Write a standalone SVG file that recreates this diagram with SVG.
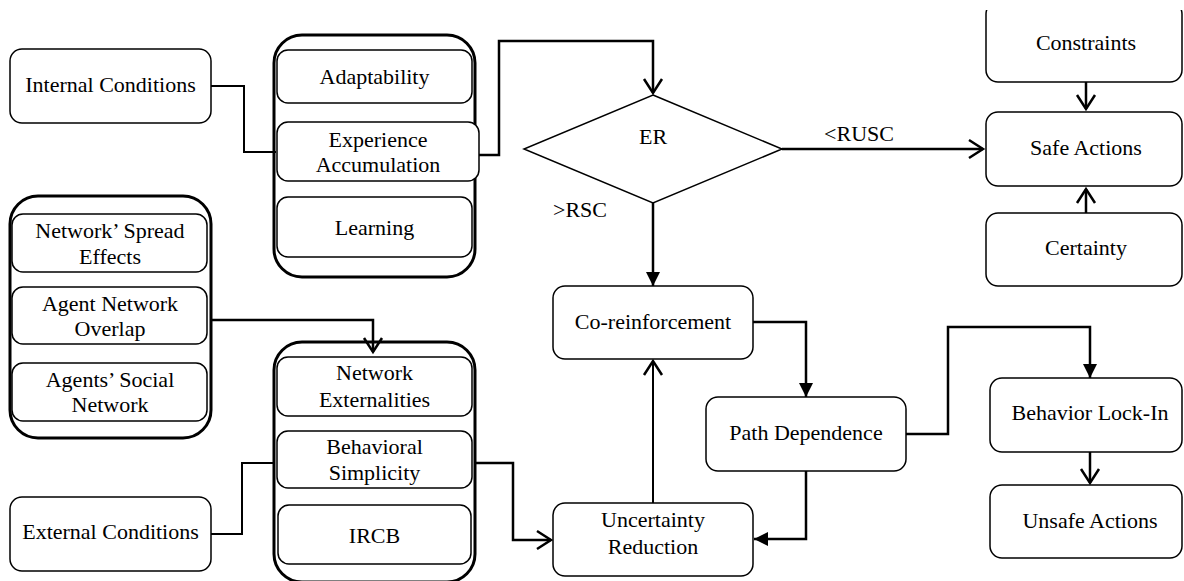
<svg xmlns="http://www.w3.org/2000/svg" width="1184" height="581" viewBox="0 0 1184 581">
<style>
.box{fill:#fff;stroke:#000;stroke-width:1.5}
.cont{fill:none;stroke:#000;stroke-width:3}
.t{font-family:"Liberation Serif","Times New Roman",serif;font-size:22px;fill:#000;text-anchor:middle}
.c{fill:none;stroke:#000;stroke-width:2.5;stroke-linejoin:miter}
.thin{stroke-width:2}
.dia{fill:#fff;stroke:#000;stroke-width:1.5}
</style>
<defs>
<marker id="open" markerUnits="userSpaceOnUse" markerWidth="20" markerHeight="20" refX="14" refY="9" orient="auto" overflow="visible"><path d="M0,0 L14,9 L0,18" fill="none" stroke="#000" stroke-width="2.5"/></marker>
<marker id="fill" markerUnits="userSpaceOnUse" markerWidth="20" markerHeight="20" refX="14" refY="7" orient="auto" overflow="visible"><path d="M0,0 L14,7 L0,14 Z" fill="#000"/></marker>
<clipPath id="topclip"><rect x="0" y="10" width="1184" height="571"/></clipPath>
</defs>
<rect width="1184" height="581" fill="#fff"/>

<g id="connectors">
<path class="c thin" d="M211,86 H244 V152 H276"/>
<path class="c thin" d="M211,534 H242 V463 H275"/>
<path class="c" d="M479,155 H499 V41 H653 V93" marker-end="url(#open)"/>
<path class="c" d="M653,203 V286" marker-end="url(#fill)"/>
<path class="c" d="M782,149 H983" marker-end="url(#open)"/>
<path class="c" d="M1086,82 V109" marker-end="url(#open)"/>
<path class="c" d="M1086,213 V189" marker-end="url(#open)"/>
<path class="c" d="M753,322 H806 V397" marker-end="url(#fill)"/>
<path class="c" d="M906,434 H948 V327 H1090 V378" marker-end="url(#fill)"/>
<path class="c" d="M1090,452 V483" marker-end="url(#open)"/>
<path class="c" d="M806,471 V539 H754" marker-end="url(#fill)"/>
<path class="c thin" d="M653,503 V361" marker-end="url(#open)"/>
<path class="c" d="M475,463 H513 V540 H551" marker-end="url(#open)"/>
<path class="c" d="M211,320 H373 V352" marker-end="url(#open)"/>
</g>

<g id="internal-conditions">
<rect class="box" x="10" y="49" width="201" height="74" rx="12"/>
<text class="t" x="110.5" y="92">Internal Conditions</text>
</g>

<g id="external-conditions">
<rect class="box" x="10" y="497" width="201" height="74" rx="12"/>
<text class="t" x="110.5" y="539">External Conditions</text>
</g>

<g id="group-agent">
<rect class="cont" x="274" y="35" width="201" height="242" rx="28"/>
<g id="adaptability">
<rect class="box" x="277" y="50" width="195" height="53" rx="11"/>
<text class="t" x="374.5" y="84">Adaptability</text>
</g>
<g id="experience-accumulation">
<rect class="box" x="277" y="122" width="202" height="59" rx="11"/>
<text class="t" x="378" y="147">Experience</text>
<text class="t" x="378" y="172">Accumulation</text>
</g>
<g id="learning">
<rect class="box" x="277" y="197" width="195" height="60" rx="11"/>
<text class="t" x="374.5" y="235">Learning</text>
</g>
</g>

<g id="group-network">
<rect class="cont" x="10" y="196" width="201" height="242" rx="28"/>
<g id="spread-effects">
<rect class="box" x="12" y="214" width="195" height="58" rx="11"/>
<text class="t" x="110" y="238">Network’ Spread</text>
<text class="t" x="110" y="264">Effects</text>
</g>
<g id="network-overlap">
<rect class="box" x="12" y="287" width="195" height="57" rx="11"/>
<text class="t" x="110" y="311">Agent Network</text>
<text class="t" x="110" y="336">Overlap</text>
</g>
<g id="social-network">
<rect class="box" x="12" y="363" width="195" height="58" rx="11"/>
<text class="t" x="110" y="387">Agents’ Social</text>
<text class="t" x="110" y="412">Network</text>
</g>
</g>

<g id="group-behavior">
<rect class="cont" x="274" y="342" width="201" height="240" rx="28"/>
<g id="network-externalities">
<rect class="box" x="277" y="357" width="195" height="59" rx="11"/>
<text class="t" x="374.5" y="380">Network</text>
<text class="t" x="374.5" y="407">Externalities</text>
</g>
<g id="behavioral-simplicity">
<rect class="box" x="277" y="431" width="195" height="57" rx="11"/>
<text class="t" x="374.5" y="454">Behavioral</text>
<text class="t" x="374.5" y="480">Simplicity</text>
</g>
<g id="ircb">
<rect class="box" x="278" y="505" width="193" height="59" rx="11"/>
<text class="t" x="374.5" y="543">IRCB</text>
</g>
</g>

<g id="er">
<polygon class="dia" points="653,95 782,149 653,203 524,149"/>
<text class="t" x="653" y="144">ER</text>
</g>
<g id="label-rusc"><text class="t" x="859" y="141">&lt;RUSC</text></g>
<g id="label-rsc"><text class="t" x="580" y="217">&gt;RSC</text></g>

<g id="constraints" clip-path="url(#topclip)">
<rect class="box" x="986" y="2" width="196" height="80" rx="12"/>
<text class="t" x="1086" y="50">Constraints</text>
</g>
<g id="safe-actions">
<rect class="box" x="986" y="112" width="196" height="74" rx="12"/>
<text class="t" x="1086" y="155">Safe Actions</text>
</g>
<g id="certainty">
<rect class="box" x="986" y="213" width="196" height="73" rx="12"/>
<text class="t" x="1086" y="255">Certainty</text>
</g>

<g id="co-reinforcement">
<rect class="box" x="553" y="286" width="200" height="73" rx="12"/>
<text class="t" x="653" y="329">Co-reinforcement</text>
</g>
<g id="path-dependence">
<rect class="box" x="706" y="397" width="200" height="74" rx="12"/>
<text class="t" x="806" y="440">Path Dependence</text>
</g>
<g id="uncertainty-reduction">
<rect class="box" x="553" y="503" width="200" height="73" rx="12"/>
<text class="t" x="653" y="527">Uncertainty</text>
<text class="t" x="653" y="554">Reduction</text>
</g>
<g id="behavior-lock-in">
<rect class="box" x="990" y="378" width="192" height="74" rx="12"/>
<text class="t" x="1090" y="420">Behavior Lock-In</text>
</g>
<g id="unsafe-actions">
<rect class="box" x="990" y="485" width="192" height="73" rx="12"/>
<text class="t" x="1090" y="528">Unsafe Actions</text>
</g>
</svg>
